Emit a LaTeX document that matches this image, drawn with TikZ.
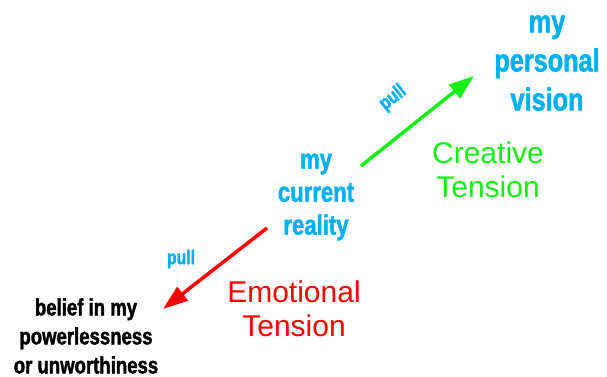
\documentclass[tikz,border=0pt]{standalone}
\usepackage{fontspec}
\setmainfont{Liberation Sans}
\newfontfamily\condbold[FakeStretch=0.79,FakeBold=1.6]{Liberation Sans Bold}
\usetikzlibrary{arrows.meta}
\definecolor{skyblue}{RGB}{0,176,240}
\definecolor{limegreen}{RGB}{20,240,20}
\definecolor{brightred}{RGB}{255,0,0}
\tikzset{
  bluelabel/.style={text=skyblue, align=center, inner sep=0pt, font=\condbold},
  tensionlabel/.style={align=center, inner sep=0pt},
  pullarrow/.style={line width=3.5pt, -{Triangle[length=25pt,width=17pt]}},
}
\begin{document}
\begin{tikzpicture}[x=1pt,y=-1pt]
\useasboundingbox (0,0) rectangle (607,377);
\node[bluelabel, font=\condbold\fontsize{32}{39}\selectfont] (vision) at (547,63) {my\\personal\\vision};
\node[bluelabel, font=\condbold\fontsize{28}{33}\selectfont] (current) at (316,197) {my\\current\\reality};
\node[align=center, inner sep=0pt, font=\condbold\fontsize{23.5}{29}\selectfont] (belief) at (86,336) {belief in my\\powerlessness\\or unworthiness};
\node[tensionlabel, text=limegreen, font=\fontsize{30}{34}\selectfont] (creative) at (488,170) {Creative\\Tension};
\node[tensionlabel, text=brightred, font=\fontsize{30}{34}\selectfont] (emotional) at (294,309) {Emotional\\Tension};
\coordinate (gstart) at (361,166);
\coordinate (gend) at (474,76);
\coordinate (rstart) at (267,228);
\coordinate (rend) at (163,309);
\draw[pullarrow, limegreen] (gstart) -- (gend);
\draw[pullarrow, brightred] (rstart) -- (rend);
\node[bluelabel, font=\condbold\fontsize{20}{24}\selectfont, rotate=38] (pullg) at (393,98) {pull};
\node[bluelabel, font=\condbold\fontsize{20}{24}\selectfont] (pullr) at (181,259) {pull};
\end{tikzpicture}
\end{document}
